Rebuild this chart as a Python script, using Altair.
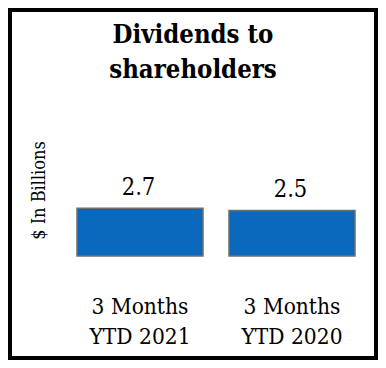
import altair as alt
import pandas as pd

# ---- data ----
periods = ["3 Months\nYTD 2021", "3 Months\nYTD 2020"]
dividends = [2.7, 2.5]
value_labels = ["2.7", "2.5"]
title_lines = ["Dividends to", "shareholders"]
y_title = "$ In Billions"
Y_MIN = -1.64   # floor of the value axis in the original drawing
Y_MAX = 2.7

df = pd.DataFrame({"period": periods, "value": dividends, "label": value_labels})
title_df = pd.DataFrame({"title": ["\n".join(title_lines)]})

FONT = "DejaVu Serif Condensed"
BAR_FILL = "#0a69bd"
BAR_STROKE = "#6f6f6f"

x_enc = alt.X(
    "period:N",
    sort=periods,
    scale=alt.Scale(range=[67, 345], paddingInner=0.171, paddingOuter=0),
    axis=alt.Axis(
        title=None, domain=False, ticks=False, tickSize=0, labelPadding=0,
        offset=-45, labelExpr="split(datum.label, '\\n')", labelAngle=0,
        labelFont=FONT, labelFontSize=22.5, labelColor="black",
        labelBaseline="alphabetic", labelLineHeight=30, labelAlign="center",
        labelOverlap=False,
    ),
)
y_enc = alt.Y(
    "value:Q",
    scale=alt.Scale(domain=[Y_MIN, Y_MAX], range=[246, 198.3], nice=False, zero=False),
    axis=alt.Axis(
        title=y_title, labels=False, ticks=False, domain=False, grid=False,
        titleFont=FONT, titleFontSize=18, titleFontWeight="normal",
        titleColor="black", titleAngle=270, titleX=34, titleY=180,
        titleBaseline="alphabetic", titleAlign="center",
    ),
)

base = alt.Chart(df)

bars = base.mark_bar(color=BAR_FILL, stroke=BAR_STROKE, strokeWidth=1.5).encode(
    x=x_enc, y=y_enc, y2=alt.datum(Y_MIN)
)

text = base.mark_text(
    font=FONT, fontSize=23.5, baseline="alphabetic", dy=-13, dx=-1.5, color="black"
).encode(x=x_enc, y=y_enc, text="label:N")

title = alt.Chart(title_df).mark_text(
    font=FONT, fontSize=25.5, fontWeight="bold", color="black", align="center",
    baseline="alphabetic", lineHeight=34.5, lineBreak="\n",
).encode(x=alt.value(183), y=alt.value(33), text="title:N")

chart = (
    alt.layer(bars, text, title)
    .properties(
        width=366,
        height=348,
        padding=2,
        autosize=alt.AutoSizeParams(type="none"),
    )
    .configure_view(stroke="black", strokeWidth=4)
)

chart.save("out.html", embed_options={"renderer": "svg", "actions": False})
